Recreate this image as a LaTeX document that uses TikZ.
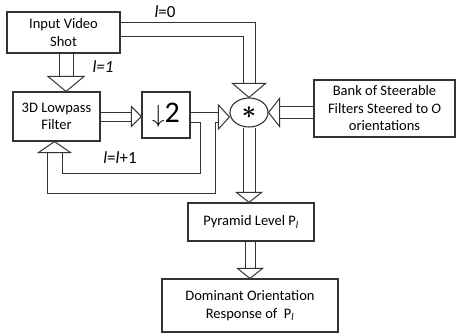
\documentclass[tikz,border=0pt]{standalone}
\usepackage{amsmath}
\usepackage{fontspec}
\setmainfont{Carlito}
\usetikzlibrary{shapes.geometric,calc}
% hollow arrow head: tip, direction, length, half width
\newcommand{\ahead}[4]{%
  \draw[tiphead] (#1) -- ($(#1)+(#2+180:#3)+(#2+90:#4)$) -- ($(#1)+(#2+180:#3)+(#2-90:#4)$) -- cycle;}
\begin{document}
\begin{tikzpicture}[x=1pt, y=-1pt, font=\fontsize{14.5}{17.5}\selectfont,
  blk/.style={draw=black!80, line width=1.1pt, align=center, inner sep=1pt},
  edge/.style={draw=black!80, line width=1pt, line join=miter},
  tiphead/.style={draw=black!80, fill=white, line width=1pt, line join=miter},
  lbl/.style={font=\fontsize{17}{20}\selectfont, inner sep=0pt}]
  \useasboundingbox (0,0) rectangle (456,333);
  % blocks
  \node[blk, minimum width=113pt, minimum height=41pt] (input) at (63.5,32.5) {Input Video\\Shot};
  \node[blk, minimum width=87pt, minimum height=49pt] (lowpass) at (56.5,116.5) {3D Lowpass\\Filter};
  \node[blk, minimum width=48pt, minimum height=46pt] (down2) at (166,115) {\fontsize{30}{30}\selectfont$\downarrow$2};
  \node[blk, ellipse, minimum width=38pt, minimum height=29pt, inner sep=0pt] (conv) at (249,112.5) {\fontsize{34}{34}\selectfont$\boldsymbol{\ast}$};
  \node[blk, minimum width=141pt, minimum height=57pt] (bank) at (384.5,108.5) {Bank of Steerable\\Filters Steered to \textit{O}\\orientations};
  \node[blk, minimum width=126pt, minimum height=38pt] (pyramid) at (251,222) {Pyramid Level P\textsubscript{\textit{l}}};
  \node[blk, minimum width=176pt, minimum height=53pt] (dominant) at (250,305.5) {Dominant Orientation\\Response of~ P\textsubscript{\textit{l}}};
  % labels
  \node[lbl] (lzero) at (165,12) {\textit{l}=0};
  \node[lbl] (lone) at (103,67) {\textit{l=1}};
  \node[lbl] (linc) at (120,158) {\textit{l}=\textit{l}+1};
  % input -> lowpass
  \coordinate (s1) at (66,0 |- input.south);
  \coordinate (t1) at (66,0 |- lowpass.north);
  \coordinate (b1) at ($(t1)+(0,-15)$);
  \draw[edge] ([xshift=-7pt]s1) -- ([xshift=-7pt]b1) ([xshift=7pt]s1) -- ([xshift=7pt]b1);
  \ahead{t1}{90}{15}{18}
  % input -> conv (l=0)
  \coordinate (s2) at ([yshift=3.5pt]input.east);
  \coordinate (c2) at (conv.north |- s2);
  \coordinate (b2) at ($(conv.north)+(0,-14)$);
  \draw[edge] ([yshift=7pt]s2) -- ([xshift=6pt,yshift=7pt]c2) -- ([xshift=6pt]b2);
  \draw[edge] ([yshift=-7pt]s2) -- ([xshift=-6pt,yshift=-7pt]c2) -- ([xshift=-6pt]b2);
  \ahead{conv.north}{90}{14}{16.5}
  % lowpass -> down2
  \coordinate (t3) at (lowpass.east -| down2.west);
  \coordinate (b3) at ($(t3)+(-10,0)$);
  \draw[edge] ([yshift=4.5pt]lowpass.east) -- ([yshift=4.5pt]b3) ([yshift=-4.5pt]lowpass.east) -- ([yshift=-4.5pt]b3);
  \ahead{t3}{0}{10}{10}
  % down2 -> conv, with the l=l+1 loop back to the lowpass filter
  \coordinate (s4) at (down2.east |- 0,117);
  \coordinate (t4) at (conv.west |- 0,117);
  \coordinate (b4) at ($(t4)+(-11,0)$);
  \coordinate (fb) at (207.5,117);
  \coordinate (fc) at (207.5,183);
  \coordinate (t5) at (54.5,0 |- lowpass.south);
  \coordinate (fl) at (t5 |- fc);
  \coordinate (b5) at ($(t5)+(0,11)$);
  \draw[edge] ([yshift=5pt]s4) -- ([yshift=5pt]b4);
  \draw[edge] ([yshift=-5pt]s4) -- ([xshift=-7.5pt,yshift=-5pt]fb) -- ([xshift=-7.5pt,yshift=10pt]fc)
    -- ([xshift=7.5pt,yshift=10pt]fl) -- ([xshift=7.5pt]b5);
  \draw[edge] ([yshift=-5pt]b4) -- ([xshift=7.5pt,yshift=-5pt]fb) -- ([xshift=7.5pt,yshift=-10pt]fc)
    -- ([xshift=-7.5pt,yshift=-10pt]fl) -- ([xshift=-7.5pt]b5);
  \ahead{t4}{0}{11}{12}
  \ahead{t5}{-90}{11}{16}
  % bank -> conv
  \coordinate (s6) at (bank.west |- conv.east);
  \coordinate (b6) at ($(conv.east)+(11,0)$);
  \draw[edge] ([yshift=6pt]s6) -- ([yshift=6pt]b6) ([yshift=-6pt]s6) -- ([yshift=-6pt]b6);
  \ahead{conv.east}{180}{11}{14}
  % conv -> pyramid
  \coordinate (t7) at (conv.south |- pyramid.north);
  \coordinate (b7) at ($(t7)+(0,-10)$);
  \draw[edge] ([xshift=-6pt]conv.south) -- ([xshift=-6pt]b7) ([xshift=6pt]conv.south) -- ([xshift=6pt]b7);
  \ahead{t7}{90}{10}{12.5}
  % pyramid -> dominant
  \coordinate (s8) at (250,0 |- pyramid.south);
  \coordinate (t8) at (250,0 |- dominant.north);
  \coordinate (b8) at ($(t8)+(0,-10)$);
  \draw[edge] ([xshift=-5pt]s8) -- ([xshift=-5pt]b8) ([xshift=5pt]s8) -- ([xshift=5pt]b8);
  \ahead{t8}{90}{10}{12.5}
\end{tikzpicture}
\end{document}
